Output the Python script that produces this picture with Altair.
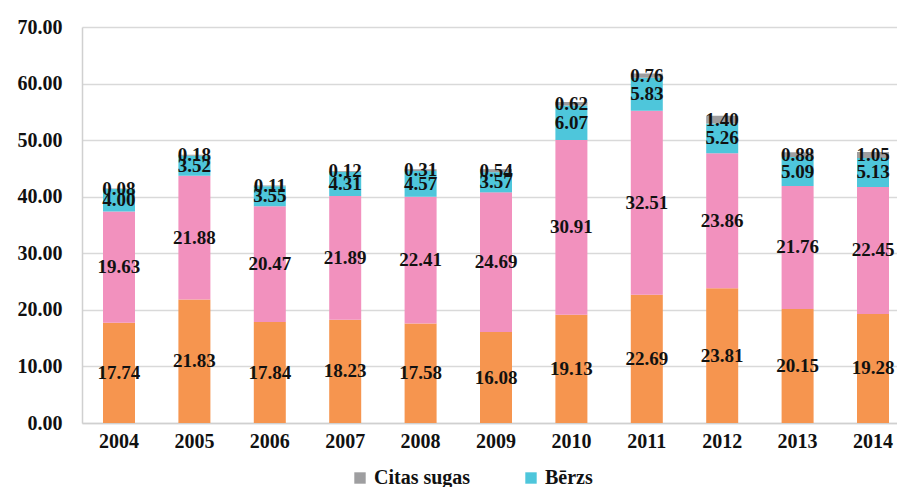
import altair as alt
import pandas as pd

years = ["2004", "2005", "2006", "2007", "2008", "2009", "2010", "2011", "2012", "2013", "2014"]
priede = [17.74, 21.83, 17.84, 18.23, 17.58, 16.08, 19.13, 22.69, 23.81, 20.15, 19.28]
egle = [19.63, 21.88, 20.47, 21.89, 22.41, 24.69, 30.91, 32.51, 23.86, 21.76, 22.45]
berzs = [4.00, 3.52, 3.55, 4.31, 4.57, 3.57, 6.07, 5.83, 5.26, 5.09, 5.13]
citas = [0.08, 0.18, 0.11, 0.12, 0.31, 0.54, 0.62, 0.76, 1.40, 0.88, 1.05]

series_names = ["Priede", "Egle", "Bērzs", "Citas sugas"]
series_values = [priede, egle, berzs, citas]
series_colors = ["#F6954F", "#F291BE", "#4EC6DB", "#9E9EA0"]
legend_values = ["Citas sugas", "Bērzs"]
y_ticks = [0, 10, 20, 30, 40, 50, 60, 70]

rows = []
for k, (name, vals) in enumerate(zip(series_names, series_values)):
    for y, v in zip(years, vals):
        rows.append({"year": y, "series": name, "value": v, "order": k})
df = pd.DataFrame(rows)

FONT = "Liberation Serif"

base = alt.Chart(df).transform_stack(
    stack="value",
    groupby=["year"],
    sort=[alt.SortField("order", order="ascending")],
    as_=["y0", "y1"],
).transform_calculate(mid="(datum.y0 + datum.y1) / 2")

xscale = alt.Scale(range=[0, 828], paddingInner=0.5756, paddingOuter=0.2785)

xenc = alt.X(
    "year:N",
    sort=years,
    title=None,
    scale=xscale,
    axis=alt.Axis(
        labelAngle=0,
        labelFont=FONT,
        labelFontSize=20,
        labelFontWeight="bold",
        labelColor="#111111",
        ticks=False,
        labelPadding=8,
        domainColor="#D0D0D0",
        domainWidth=1.5,
        grid=False,
    ),
)

bars = base.mark_bar().encode(
    x=xenc,
    y=alt.Y(
        "y0:Q",
        title=None,
        scale=alt.Scale(domain=[0, 70], nice=False),
        axis=alt.Axis(
            values=y_ticks,
            format=".2f",
            labelFont=FONT,
            labelFontSize=20,
            labelFontWeight="bold",
            labelColor="#111111",
            ticks=False,
            labelPadding=20,
            domainColor="#D0D0D0",
            domainWidth=1.5,
            grid=True,
            gridColor="#D9D9D9",
            gridWidth=1.5,
        ),
    ),
    y2="y1:Q",
    color=alt.Color(
        "series:N",
        scale=alt.Scale(domain=series_names, range=series_colors),
        legend=alt.Legend(
            values=legend_values,
            title=None,
            orient="none",
            direction="horizontal",
            legendX=268,
            legendY=441,
            symbolType="square",
            symbolSize=130,
            symbolStrokeWidth=0,
            labelFont=FONT,
            labelFontSize=20,
            labelFontWeight="bold",
            labelColor="#111111",
            labelOffset=4,
            columnPadding=50,
            padding=0,
        ),
    ),
    order=alt.Order("order:Q"),
)

labels = base.mark_text(
    font=FONT, fontSize=19, fontWeight="bold", color="#111111", baseline="middle"
).encode(
    x=alt.X("year:N", sort=years, scale=xscale),
    y=alt.Y("mid:Q"),
    text=alt.Text("value:Q", format=".2f"),
)

chart = (
    alt.layer(bars, labels)
    .properties(
        width=815,
        height=396,
        autosize=alt.AutoSizeParams(type="none"),
        padding={"left": 74, "top": 19, "right": 0, "bottom": 64},
        background="white",
    )
    .configure_view(stroke=None)
)

chart.save("out.html", embed_options={"renderer": "svg", "actions": False})
